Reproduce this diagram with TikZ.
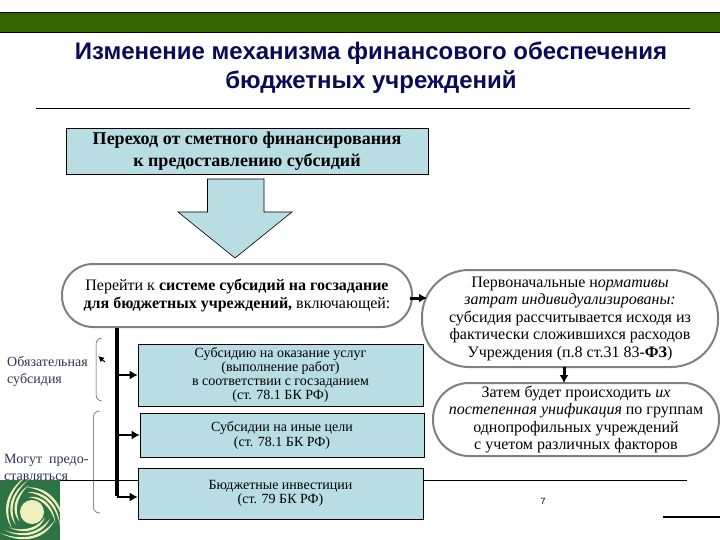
\documentclass[tikz,border=0pt]{standalone}
\usepackage{fontspec}
\setmainfont{Liberation Serif}
\newfontfamily\headfont{Liberation Sans}
\usetikzlibrary{arrows.meta}
\definecolor{bannergreen}{RGB}{51,102,0}
\definecolor{boxblue}{RGB}{184,221,226}
\definecolor{headblue}{RGB}{10,10,90}
\definecolor{sidegray}{RGB}{50,50,85}
\definecolor{logogreen}{RGB}{45,115,70}
\definecolor{logopale}{RGB}{240,240,190}
\tikzset{
  bluebox/.style={draw=black,fill=boxblue,line width=.6pt,align=center,inner sep=0pt},
  ovalbox/.style={draw=black!50,fill=white,line width=2pt,rounded corners=31pt,align=center,inner sep=0pt},
  sidelabel/.style={anchor=west,align=left,text=sidegray,inner sep=0pt,font=\fontsize{14}{17}\selectfont},
  thickarrow/.style={line width=3pt,-{Latex[length=8pt,width=9pt]}},
  sidebrace/.style={draw=black!70,line width=.5pt,rounded corners=6pt}
}
\begin{document}
\begin{tikzpicture}[x=1pt,y=-1pt]
  \useasboundingbox (0,0) rectangle (720,540);
  \fill[white] (0,0) rectangle (720,540);
  % banner and title
  \draw[fill=bannergreen,line width=.6pt] (-2,12) rectangle (722,32);
  \node (title) at (371,67.5) [align=center,text=headblue,inner sep=0pt,
    font=\headfont\bfseries\fontsize{24}{29}\selectfont]
    {Изменение механизма финансового обеспечения\\бюджетных учреждений};
  \draw[line width=.7pt] (36,108) -- (690,108);
  % footer rule lies under the boxes
  \draw[line width=.7pt] (0,480) -- (687,480);
  % top box and big arrow
  \node (top) at (247,151) [bluebox,minimum width=362pt,minimum height=46pt,
    font=\bfseries\fontsize{18}{22}\selectfont]
    {Переход от сметного финансирования\\к предоставлению субсидий};
  \draw[fill=boxblue,line width=.6pt] (207.5,179) -- (264,179) -- (264,212) -- (292,212)
    -- (235,258) -- (178,212) -- (207.5,212) -- cycle;
  % ovals
  \node (sys) at (237,295.5) [ovalbox,minimum width=350pt,minimum height=63pt,
    font=\fontsize{16}{18}\selectfont]
    {Перейти к \textbf{системе субсидий на госзадание}\\\textbf{для бюджетных учреждений,} включающей:};
  \node (norm) at (570,318.5) [ovalbox,minimum width=296pt,minimum height=97pt,
    rounded corners=47pt,font=\fontsize{16}{17.5}\selectfont]
    {Первоначальные н\textit{ормативы}\\\textit{затрат индивидуализированы:}\\субсидия рассчитывается исходя из\\фактически сложившихся расходов\\Учреждения (п.8 ст.31 83-\textbf{ФЗ})};
  \node (unif) at (576,419.5) [ovalbox,minimum width=286pt,minimum height=73pt,
    rounded corners=36pt,font=\fontsize{16}{17.5}\selectfont]
    {Затем будет происходить \textit{их}\\\textit{постепенная унификация} по группам\\однопрофильных учреждений\\с учетом различных факторов};
  % three blue boxes
  \node (boxa) at (280.5,375) [bluebox,minimum width=285pt,minimum height=62pt,
    font=\fontsize{14}{14}\selectfont]
    {Субсидию на оказание услуг\\(выполнение работ)\\в соответствии с госзаданием\\(ст. 78.1 БК РФ)};
  \node (boxb) at (282,435) [bluebox,minimum width=284pt,minimum height=44pt,
    font=\fontsize{14}{15}\selectfont]
    {Субсидии на иные цели\\(ст. 78.1 БК РФ)};
  \node (boxc) at (280.5,493.5) [bluebox,minimum width=285pt,minimum height=51pt,
    font=\fontsize{14}{14}\selectfont]
    {Бюджетные инвестиции\\(ст. 79 БК РФ)};
  % connectors
  \coordinate (trunkend) at (117,497);
  \draw[line width=3.5pt] (sys.south -| trunkend) -- ([yshift=1.5pt]trunkend);
  \draw[thickarrow,line width=2.5pt] (trunkend |- boxa.west) -- (boxa.west);
  \draw[thickarrow,line width=2.5pt] (trunkend |- boxb.west) -- (boxb.west);
  \draw[thickarrow,line width=2.5pt] (trunkend) -- (trunkend -| boxc.west);
  \coordinate (sysout) at (410,298);
  \draw[thickarrow] (sysout) -- ([xshift=6pt]sysout -| norm.west);
  \draw[thickarrow] (564,367) -- (564,383);
  % left side
  \node (oblig) at (7,371) [sidelabel] {Обязательная\\субсидия};
  \node (maybe) at (4,467.5) [sidelabel] {Могут\ \ предо-\\ставляться};
  \draw[sidebrace] (102,338) -- (96,338) -- (96,401) -- (102,401);
  \draw[sidebrace] (100,411) -- (93.5,411) -- (93.5,513) -- (100,513);
  \coordinate (tickout) at (105,362);
  \coordinate (tickin) at (98,356);
  \draw[-{Latex[length=6pt,width=6pt]},line width=1pt] (tickout) -- (tickin);
  % logo
  \fill[logogreen] (0,480) rectangle (60,540);
  \fill[logopale] (32,512) circle (12);
  \begin{scope}
    \clip (0,480) rectangle (60,540);
    \foreach \a in {-20,100,220}
      \foreach \r in {15,20,25}
        \fill[logopale,shift={(31,512)},rotate=\a] (0:\r) .. controls (40:\r+1) and (80:\r+6) .. (125:\r+12)
          .. controls (80:\r+9) and (40:\r+5) .. cycle;
  \end{scope}
  % page number and small mark
  \node (pagenum) at (543,501) [inner sep=0pt,font=\headfont\fontsize{9}{11}\selectfont] {7};
  \draw[line width=1.6pt] (663,517) -- (720,517);
\end{tikzpicture}
\end{document}
